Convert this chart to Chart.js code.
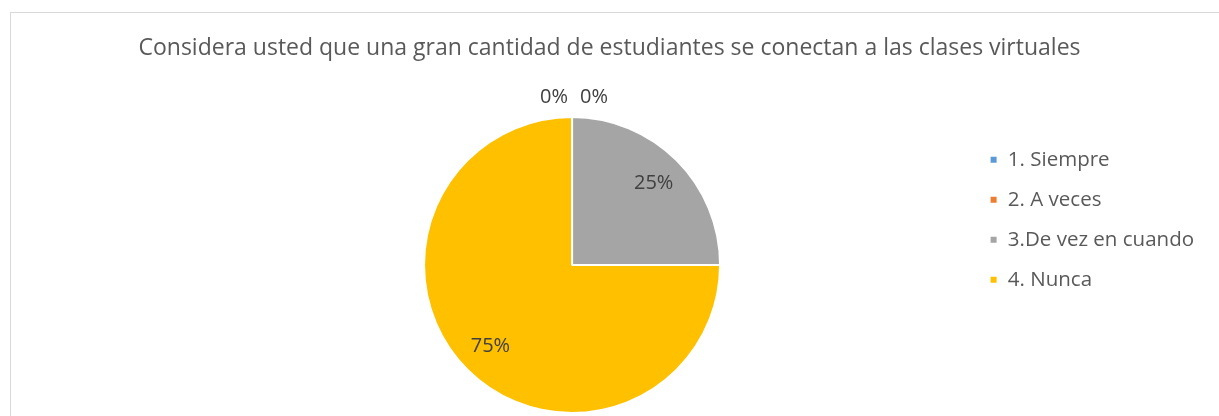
<!DOCTYPE html>
<html>
<head>
<meta charset="utf-8">
<script src="https://cdn.jsdelivr.net/npm/chart.js@4.4.0/dist/chart.umd.min.js"></script>
<style>
  html, body { margin: 0; padding: 0; background: #fff; }
  #wrap { position: relative; width: 1219px; height: 416px; overflow: hidden; }
  #frame { position: absolute; left: 10px; top: 12px; width: 1230px; height: 430px; border: 1px solid #d9d9d9; }
  #box { position: absolute; left: 0; top: 0; width: 1219px; height: 416px; }
</style>
</head>
<body>
<div id="wrap">
  <div id="frame"></div>
  <div id="box"><canvas id="pieChart"></canvas></div>
</div>
<script>
const chartTitle = 'Considera usted que una gran cantidad de estudiantes se conectan a las clases virtuales';
const categories = ['1. Siempre', '2. A veces', '3.De vez en cuando', '4. Nunca'];
const values = [0, 0, 25, 75];
const colors = ['#5B9BD5', '#ED7D31', '#A5A5A5', '#FFC000'];

const FONT = '"Open Sans", sans-serif';
const TEXT = '#595959';

// title centred on the whole canvas (the pie itself sits left of centre)
const centeredTitle = {
    id: 'centeredTitle',
    afterDraw(chart) {
        const ctx = chart.ctx;
        ctx.save();
        ctx.font = '23px ' + FONT;
        ctx.fillStyle = TEXT;
        ctx.textAlign = 'center';
        ctx.textBaseline = 'middle';
        ctx.fillText(chartTitle, chart.width / 2, 48);
        ctx.restore();
    }
};

// percentage labels: inside the slice, or above the pie for empty slices
const sliceLabels = {
    id: 'sliceLabels',
    afterDatasetsDraw(chart) {
        const ctx = chart.ctx;
        const meta = chart.getDatasetMeta(0);
        const total = values.reduce((a, b) => a + b, 0);
        const zeroCount = values.filter(v => v === 0).length;
        let zeroIdx = 0;
        ctx.save();
        ctx.font = '20px ' + FONT;
        ctx.fillStyle = '#404040';
        ctx.textAlign = 'center';
        ctx.textBaseline = 'middle';
        meta.data.forEach((arc, i) => {
            const p = arc.getProps(['x', 'y', 'startAngle', 'endAngle', 'outerRadius'], true);
            const mid = (p.startAngle + p.endAngle) / 2;
            const txt = Math.round(values[i] / total * 100) + '%';
            if (values[i] > 0) {
                const r = p.outerRadius * 0.78;
                ctx.fillText(txt, p.x + Math.cos(mid) * r, p.y + Math.sin(mid) * r);
            } else {
                const r = p.outerRadius + 20;
                const w = ctx.measureText(txt).width + 12;
                const px = p.x + 2 + Math.cos(mid) * r + (zeroIdx - (zeroCount - 1) / 2) * w;
                ctx.fillText(txt, px, p.y + Math.sin(mid) * r);
                zeroIdx++;
            }
        });
        ctx.restore();
    }
};

new Chart(document.getElementById('pieChart'), {
    type: 'pie',
    data: {
        labels: categories,
        datasets: [{
            data: values,
            backgroundColor: colors,
            borderColor: '#ffffff',
            borderWidth: 2,
            hoverOffset: 0
        }]
    },
    options: {
        responsive: true,
        maintainAspectRatio: false,
        animation: false,
        layout: { padding: { left: 174, right: 15, top: 116, bottom: 2 } },
        plugins: {
            title: { display: false },
            legend: {
                position: 'right',
                align: 'start',
                fullSize: false,
                title: { display: true, text: '', font: { size: 1, lineHeight: 6 }, padding: 4 },
                labels: {
                    boxWidth: 8,
                    boxHeight: 8,
                    padding: 19.5,
                    color: TEXT,
                    font: { family: FONT, size: 20.5 }
                }
            },
            tooltip: { enabled: false }
        }
    },
    plugins: [sliceLabels, centeredTitle]
});
</script>
</body>
</html>
